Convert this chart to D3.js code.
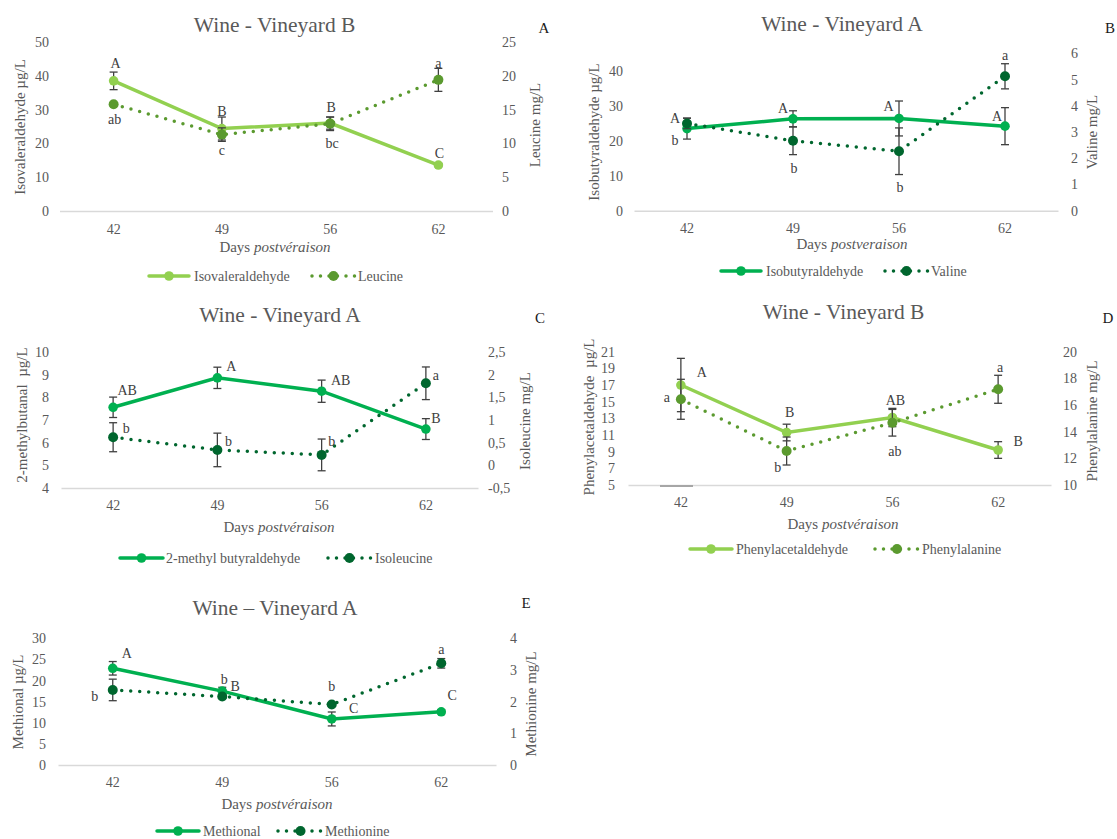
<!DOCTYPE html>
<html>
<head>
<meta charset="utf-8">
<script src="https://cdn.jsdelivr.net/npm/d3@7"></script>
<style>
  body { margin: 0; background: #fff; }
  svg { display: block; font-family: "Liberation Serif", "Times New Roman", serif; }
</style>
</head>
<body>
<div id="chart-area"></div>
<script>
// days after veraison (x categories, shared by all panels)
const days = ['42', '49', '56', '62'];

// A - Wine Vineyard B
const isovaleraldehyde = [38.5, 24.4, 26.0, 13.6];
const isovaleraldehydeErr = [2.6, 3.4, 1.8, 0.5];
const leucine = [15.8, 11.3, 12.9, 19.4];
const leucineErr = [0.2, 1.0, 1.0, 1.7];
const lettersIsoval = ['A', 'B', 'B', 'C'];
const lettersLeucine = ['ab', 'c', 'bc', 'a'];

// B - Wine Vineyard A
const isobutyraldehyde = [23.5, 26.3, 26.4, 24.2];
const isobutyraldehydeErr = [3.0, 2.3, 5.0, 5.3];
const valine = [3.33, 2.67, 2.27, 5.13];
const valineErr = [0.2, 0.53, 0.89, 0.48];
const lettersIsobut = ['A', 'A', 'A', 'A'];
const lettersValine = ['b', 'b', 'b', 'a'];

// C - Wine Vineyard A
const methylbutanal = [7.56, 8.86, 8.27, 6.6];
const methylbutanalErr = [0.45, 0.47, 0.49, 0.46];
const isoleucine = [0.62, 0.34, 0.23, 1.81];
const isoleucineErr = [0.32, 0.37, 0.35, 0.36];
const lettersMethylbut = ['AB', 'A', 'AB', 'B'];
const lettersIsoleucine = ['b', 'b', 'b', 'a'];

// D - Wine Vineyard B
const phenylacetaldehyde = [17.0, 11.3, 13.1, 9.2];
const phenylacetaldehydeErr = [3.2, 1.0, 1.1, 1.0];
const phenylalanine = [16.43, 12.55, 14.67, 17.18];
const phenylalanineErr = [1.5, 1.05, 1.0, 1.05];
const lettersPhenylacet = ['A', 'B', 'AB', 'B'];
const lettersPhenylalanine = ['a', 'b', 'ab', 'a'];

// E - Wine Vineyard A
const methional = [22.9, 17.5, 10.9, 12.6];
const methionalErr = [1.6, 0.9, 1.65, 0.5];
const methionine = [2.37, 2.16, 1.91, 3.21];
const methionineErr = [0.34, 0.05, 0.05, 0.15];
const lettersMethional = ['A', 'B', 'C', 'C'];
const lettersMethionine = ['b', 'b', 'b', 'a'];

// tick values
const ticksLeftA = [0, 10, 20, 30, 40, 50], ticksRightA = [0, 5, 10, 15, 20, 25];
const ticksLeftB = [0, 10, 20, 30, 40], ticksRightB = [0, 1, 2, 3, 4, 5, 6];
const ticksLeftC = [4, 5, 6, 7, 8, 9, 10], ticksRightC = [-0.5, 0, 0.5, 1, 1.5, 2, 2.5];
const ticksLeftD = [5, 7, 9, 11, 13, 15, 17, 19, 21], ticksRightD = [10, 12, 14, 16, 18, 20];
const ticksLeftE = [0, 5, 10, 15, 20, 25, 30], ticksRightE = [0, 1, 2, 3, 4];

const lightGreen = '#92D050', oliveGreen = '#5B9A2F';
const brightGreen = '#00B050', darkGreen = '#00662E';
const grey = '#595959';

const panels = [
  { title: 'Wine - Vineyard B', tag: 'A', xr: [59.5, 492.5], yr: [211, 42],
    leftDom: [0, 50], rightDom: [0, 25], leftTicks: ticksLeftA, rightTicks: ticksRightA,
    leftLab: 49, rightLab: 502, leftTitle: 'Isovaleraldehyde µg/L', rightTitle: 'Leucine mg/L',
    leftT: [20, 127], rightT: [535, 125], titleXY: [274.6, 24], tagXY: [544, 28],
    xLabY: 229, xTitleY: 247, xTitleX: 275, italic: 'postvéraison', legY: 276,
    s1: { name: 'Isovaleraldehyde', v: isovaleraldehyde, e: isovaleraldehydeErr, l: lettersIsoval, c: lightGreen,
          off: [[2, -18], [0, -17.5], [1, -16], [1, -12]], leg: [149, 189, 194] },
    s2: { name: 'Leucine', v: leucine, e: leucineErr, l: lettersLeucine, c: oliveGreen,
          off: [[1, 15], [0, 15.5], [2, 19.5], [0, -17]], leg: [312, 355, 358] } },
  { title: 'Wine - Vineyard A', tag: 'B', xr: [634, 1058], yr: [210.7, 53.5],
    leftDom: [0, 45], rightDom: [0, 6], leftTicks: ticksLeftB, rightTicks: ticksRightB,
    leftLab: 623, rightLab: 1071, leftTitle: 'Isobutyraldehyde µg/L', rightTitle: 'Valine mg/L',
    leftT: [594, 132], rightT: [1092, 132], titleXY: [842, 23], tagXY: [1110, 28],
    xLabY: 228, xTitleY: 244, xTitleX: 852, italic: 'postveraison', legY: 271,
    s1: { name: 'Isobutyraldehyde', v: isobutyraldehyde, e: isobutyraldehydeErr, l: lettersIsobut, c: brightGreen,
          off: [[-12, -11], [-10, -11], [-10.5, -12], [-8, -10]], leg: [721, 761, 766] },
    s2: { name: 'Valine', v: valine, e: valineErr, l: lettersValine, c: darkGreen,
          off: [[-12, 17], [1, 27.5], [1, 35.5], [0, -21]], leg: [885, 928, 931] } },
  { title: 'Wine - Vineyard A', tag: 'C', xr: [61, 478], yr: [488, 352],
    leftDom: [4, 10], rightDom: [-0.5, 2.5], leftTicks: ticksLeftC, rightTicks: ticksRightC,
    leftLab: 49, rightLab: 488, leftTitle: '2-methylbutanal  µg/L', rightTitle: 'Isoleucine mg/L',
    leftT: [22, 415], rightT: [525, 421], titleXY: [280, 314], tagXY: [540, 318],
    xLabY: 505, xTitleY: 527, xTitleX: 279, italic: 'postvéraison', legY: 558,
    s1: { name: '2-methyl butyraldehyde', v: methylbutanal, e: methylbutanalErr, l: lettersMethylbut, c: brightGreen,
          off: [[14, -17], [14, -12], [19, -11], [10, -11]], leg: [120, 163, 166] },
    s2: { name: 'Isoleucine', v: isoleucine, e: isoleucineErr, l: lettersIsoleucine, c: darkGreen,
          off: [[13, -9], [11, -9], [10, -14], [10, -8]], leg: [328, 371, 375] } },
  { title: 'Wine - Vineyard B', tag: 'D', xr: [628, 1051], yr: [485, 351.7],
    leftDom: [5, 21], rightDom: [10, 20], leftTicks: ticksLeftD, rightTicks: ticksRightD,
    leftLab: 615, rightLab: 1063, leftTitle: 'Phenylacetaldehyde  µg/L', rightTitle: 'Phenylalanine mg/L',
    leftT: [589, 417], rightT: [1092, 421], titleXY: [843.6, 311], tagXY: [1108, 318],
    xLabY: 502, xTitleY: 524, xTitleX: 843, italic: 'postvéraison', legY: 549,
    s1: { name: 'Phenylacetaldehyde', v: phenylacetaldehyde, e: phenylacetaldehydeErr, l: lettersPhenylacet, c: lightGreen,
          off: [[21, -13], [3, -20], [3, -17.5], [20, -9]], leg: [690, 732, 736] },
    s2: { name: 'Phenylalanine', v: phenylalanine, e: phenylalanineErr, l: lettersPhenylalanine, c: oliveGreen,
          off: [[-14, -2], [-9, 16], [2.5, 28], [2, -22]], leg: [875, 919, 922] } },
  { title: 'Wine \u2013 Vineyard A', tag: 'E', xr: [58, 496], yr: [765, 638.3],
    leftDom: [0, 30], rightDom: [0, 4], leftTicks: ticksLeftE, rightTicks: ticksRightE,
    leftLab: 46, rightLab: 510, leftTitle: 'Methional µg/L', rightTitle: 'Methionine mg/L',
    leftT: [18, 702], rightT: [531, 704], titleXY: [275, 607], tagXY: [526, 603],
    xLabY: 782, xTitleY: 804, xTitleX: 277, italic: 'postvéraison', legY: 831,
    s1: { name: 'Methional', v: methional, e: methionalErr, l: lettersMethional, c: brightGreen,
          off: [[14, -15], [13, -5], [22, -11], [11, -17]], leg: [157, 199, 203] },
    s2: { name: 'Methionine', v: methionine, e: methionineErr, l: lettersMethionine, c: darkGreen,
          off: [[-18, 6], [2, -17], [0, -18], [0, -14]], leg: [278, 323, 325] } }
];

const svg = d3.select('#chart-area').append('svg')
  .attr('width', 1117).attr('height', 839);

const fmt = d => String(d).replace('.', ',');

panels.forEach(function(p) {
  const g = svg.append('g');
  const x = d3.scaleBand().domain(days).range(p.xr).padding(0);
  const yL = d3.scaleLinear().domain(p.leftDom).range(p.yr);
  const yR = d3.scaleLinear().domain(p.rightDom).range(p.yr);
  const cx = d => x(d) + x.bandwidth() / 2;

  // title + panel tag
  g.append('text').attr('x', p.titleXY[0]).attr('y', p.titleXY[1]).attr('dy', '0.35em')
    .attr('text-anchor', 'middle').attr('font-size', '21.5px').attr('fill', grey).text(p.title);
  g.append('text').attr('x', p.tagXY[0]).attr('y', p.tagXY[1]).attr('dy', '0.35em')
    .attr('text-anchor', 'middle').attr('font-size', '15px').attr('fill', '#1a1a1a').text(p.tag);

  // x axis
  const xAx = g.append('g').attr('transform', 'translate(0,' + p.yr[0] + ')')
    .call(d3.axisBottom(x).tickSize(0).tickSizeOuter(0).tickPadding(p.xLabY - p.yr[0] - 5));
  xAx.attr('font-family', null).attr('font-size', null);
  xAx.select('.domain').attr('stroke', '#D9D9D9').attr('stroke-width', 1.5);
  xAx.selectAll('text').attr('font-size', '14px').attr('fill', grey);

  // y axes
  const lAx = g.append('g').attr('transform', 'translate(' + p.leftLab + ',0)')
    .call(d3.axisLeft(yL).tickValues(p.leftTicks).tickSize(0).tickPadding(0).tickFormat(fmt));
  const rAx = g.append('g').attr('transform', 'translate(' + p.rightLab + ',0)')
    .call(d3.axisRight(yR).tickValues(p.rightTicks).tickSize(0).tickPadding(0).tickFormat(fmt));
  [lAx, rAx].forEach(function(a) {
    a.attr('font-family', null).attr('font-size', null);
    a.select('.domain').remove();
    a.selectAll('text').attr('font-size', '14px').attr('fill', grey);
  });

  // axis titles
  g.append('text').attr('transform', 'translate(' + p.leftT[0] + ',' + p.leftT[1] + ') rotate(-90)')
    .attr('dy', '0.35em').attr('text-anchor', 'middle').attr('font-size', '15px').attr('fill', grey)
    .style('white-space', 'pre').text(p.leftTitle);
  g.append('text').attr('transform', 'translate(' + p.rightT[0] + ',' + p.rightT[1] + ') rotate(-90)')
    .attr('dy', '0.35em').attr('text-anchor', 'middle').attr('font-size', '15px').attr('fill', grey)
    .text(p.rightTitle);
  const xt = g.append('text').attr('x', p.xTitleX).attr('y', p.xTitleY).attr('dy', '0.35em')
    .attr('text-anchor', 'middle').attr('font-size', '15px').attr('fill', grey);
  xt.append('tspan').text('Days ');
  xt.append('tspan').attr('font-style', 'italic').text(p.italic);

  // series
  [[p.s1, yL, false], [p.s2, yR, true]].forEach(function(item) {
    const s = item[0], y = item[1], dotted = item[2];
    const pts = days.map((d, i) => ({ d: d, v: s.v[i], e: s.e[i], l: s.l[i], o: s.off[i] }));

    // error bars
    const eb = g.append('g').attr('stroke', '#404040').attr('stroke-width', 1.3);
    pts.forEach(function(pt) {
      const xx = cx(pt.d), y1 = y(pt.v + pt.e), y2 = y(pt.v - pt.e);
      eb.append('line').attr('x1', xx).attr('x2', xx).attr('y1', y1).attr('y2', y2);
      eb.append('line').attr('x1', xx - 4).attr('x2', xx + 4).attr('y1', y1).attr('y2', y1);
      eb.append('line').attr('x1', xx - 4).attr('x2', xx + 4).attr('y1', y2).attr('y2', y2);
    });

    const line = d3.line().x(d => cx(d.d)).y(d => y(d.v));
    const path = g.append('path').datum(pts).attr('d', line).attr('fill', 'none')
      .attr('stroke', s.c).attr('stroke-linecap', 'round').attr('stroke-width', 3.5);
    if (dotted) path.attr('stroke-dasharray', '0 9');

    g.selectAll(null).data(pts).enter().append('circle')
      .attr('cx', d => cx(d.d)).attr('cy', d => y(d.v)).attr('r', dotted ? 5 : 4.8)
      .attr('fill', s.c);

    g.selectAll(null).data(pts).enter().append('text')
      .attr('x', d => cx(d.d) + d.o[0]).attr('y', d => y(d.v) + d.o[1]).attr('dy', '0.35em')
      .attr('text-anchor', 'middle').attr('font-size', '14px').attr('fill', '#404040')
      .text(d => d.l);

    // legend entry
    const ly = p.legY;
    const lg = g.append('g');
    const ll = lg.append('line').attr('x1', s.leg[0]).attr('x2', s.leg[1]).attr('y1', ly).attr('y2', ly)
      .attr('stroke', s.c).attr('stroke-width', 3.5).attr('stroke-linecap', 'round');
    if (dotted) ll.attr('stroke-dasharray', '0 8.5');
    lg.append('circle').attr('cx', (s.leg[0] + s.leg[1]) / 2).attr('cy', ly).attr('r', dotted ? 5 : 4.8)
      .attr('fill', s.c);
    lg.append('text').attr('x', s.leg[2]).attr('y', ly).attr('dy', '0.35em')
      .attr('font-size', '14px').attr('fill', grey).text(s.name);
  });
});

// small dark base mark under panel D's first category
svg.append('line').attr('x1', 660).attr('x2', 693).attr('y1', 486).attr('y2', 486)
  .attr('stroke', '#A6A6A6').attr('stroke-width', 2);
</script>
</body>
</html>
